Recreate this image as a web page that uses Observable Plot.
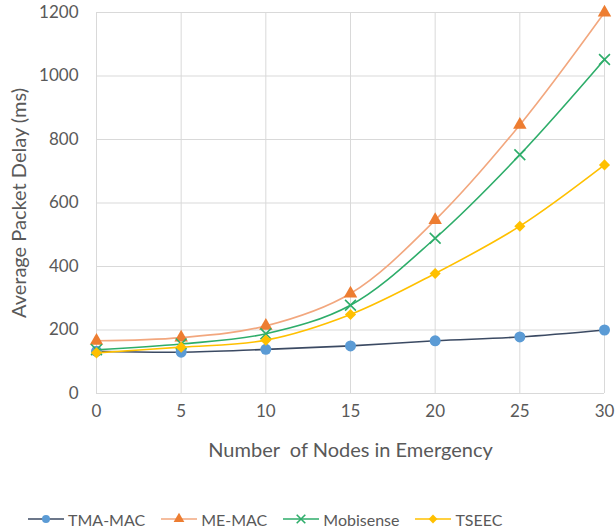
<!DOCTYPE html>
<html><head><meta charset="utf-8">
<script src="https://cdn.jsdelivr.net/npm/d3@7"></script>
<script src="https://cdn.jsdelivr.net/npm/@observablehq/plot@0.6"></script>
<style>
body{margin:0;background:#fff;font-family:Lato,"Open Sans",sans-serif;}
#chart svg{display:block;}
#legend{display:flex;align-items:center;height:30px;padding-left:28px;margin-top:14px;font-size:16px;color:#595959;}
.item{display:flex;align-items:center;margin-right:16px;}
.item svg{margin-right:4px;}
</style></head><body>
<div id="chart"></div>
<div id="legend"></div>
<script>
const nodes = [0, 5, 10, 15, 20, 25, 30];
const tmaMac = [133, 130, 139, 150, 166, 178, 200];
const meMac = [166, 176, 213, 315, 546, 846, 1200];
const mobisense = [138, 156, 188, 278, 489, 752, 1052];
const tseec = [128, 146, 168, 249, 378, 527, 720];
const yTicks = [0, 200, 400, 600, 800, 1000, 1200];
const seriesNames = ["TMA-MAC", "ME-MAC", "Mobisense", "TSEEC"];
const seriesValues = [tmaMac, meMac, mobisense, tseec];
const lineColors = ["#3B4A63", "#F2A77E", "#2EAD6A", "#FFC000"];
const markerColors = ["#5B9BD5", "#ED7D31", "#2EAD6A", "#FFC000"];
const symbols = ["circle", "triangle", "times", "diamond2"];
const sizes = [5.5, 5, 5, 5];

const rows = seriesNames.flatMap((s, i) => nodes.map((n, j) => ({series: s, x: n, y: seriesValues[i][j]})));

const marks = [
  Plot.gridX(nodes, {stroke: "#d9d9d9", strokeOpacity: 1}),
  Plot.gridY(yTicks, {stroke: "#d9d9d9", strokeOpacity: 1}),
  Plot.axisX(nodes, {tickSize: 0, tickPadding: 11, fontSize: 17, fill: "#595959", tickFormat: d3.format("d")}),
  Plot.axisY(yTicks, {tickSize: 0, tickPadding: 18, fontSize: 17, fill: "#595959", tickFormat: d3.format("d")}),
  Plot.text(["Number  of Nodes in Emergency"], {frameAnchor: "bottom", dy: 63, fontSize: 20, fill: "#595959"}),
  Plot.text(["Average Packet Delay (ms)"], {frameAnchor: "left", dx: -77, rotate: -90, textAnchor: "middle", fontSize: 20, fill: "#595959"})
];
seriesNames.forEach((s, i) => {
  const d = rows.filter(r => r.series === s);
  marks.push(Plot.line(d, {x: "x", y: "y", stroke: lineColors[i], strokeWidth: 1.6, curve: "catmull-rom"}));
  const isStroke = symbols[i] === "times";
  marks.push(Plot.dot(d, {x: "x", y: "y", symbol: () => symbols[i], r: sizes[i],
    fill: isStroke ? "none" : markerColors[i], stroke: isStroke ? markerColors[i] : "none", strokeWidth: 1.6}));
});

const chart = Plot.plot({
  width: 615, height: 490,
  marginLeft: 96, marginRight: 11, marginTop: 12, marginBottom: 97,
  style: {fontFamily: "Lato, 'Open Sans', sans-serif", background: "#fff"},
  x: {domain: [0, 30], label: null, axis: null},
  y: {domain: [0, 1200], label: null, axis: null},
  symbol: {type: "identity"},
  marks
});
document.getElementById("chart").append(chart);

const legend = d3.select("#legend");
seriesNames.forEach((s, i) => {
  const item = legend.append("div").attr("class", "item");
  const sv = item.append("svg").attr("width", 36).attr("height", 16);
  sv.append("line").attr("x1", 0).attr("x2", 36).attr("y1", 8).attr("y2", 8).attr("stroke", lineColors[i]).attr("stroke-width", 1.6);
  const symMap = {circle: d3.symbolCircle, triangle: d3.symbolTriangle, times: d3.symbolTimes, diamond2: d3.symbolDiamond2};
  const isStroke = symbols[i] === "times";
  sv.append("path").attr("transform", "translate(18,8)")
    .attr("d", d3.symbol(symMap[symbols[i]], 50)())
    .attr("fill", isStroke ? "none" : markerColors[i])
    .attr("stroke", isStroke ? markerColors[i] : "none").attr("stroke-width", 1.6);
  item.append("span").text(s);
});
</script>
</body></html>
